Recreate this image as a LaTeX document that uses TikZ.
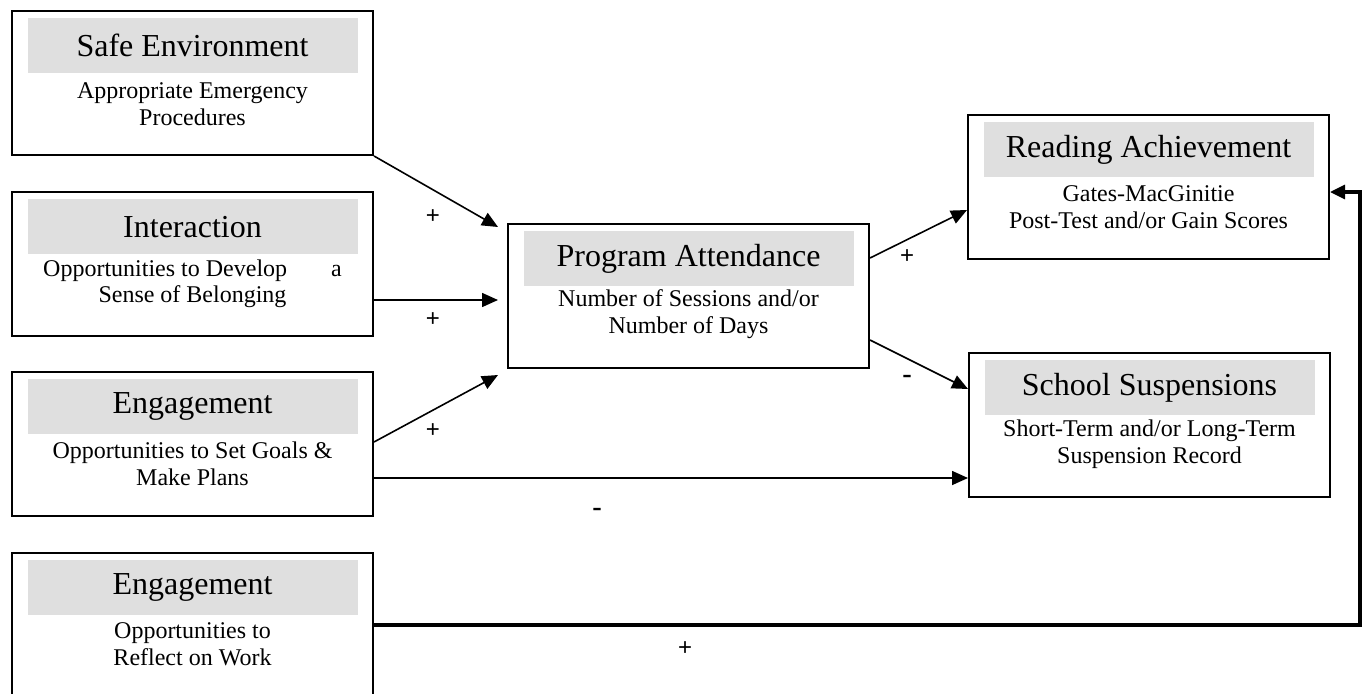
\documentclass[tikz,border=0pt]{standalone}
\usepackage{fontspec}
\setmainfont{Liberation Serif}
\newfontfamily\signfont{Liberation Sans}
\usetikzlibrary{arrows.meta,positioning,calc}
\begin{document}
\begin{tikzpicture}[x=1pt,y=-1pt,
  box/.style={draw,line width=2pt,minimum width=361pt,minimum height=144pt,inner sep=0pt,anchor=north west},
  titlebar/.style={fill=gray!25,minimum width=330pt,minimum height=55pt,inner sep=0pt,font=\fontsize{32}{36}\selectfont},
  body/.style={align=center,font=\fontsize{24}{26.5}\selectfont,inner sep=0pt},
  arr/.style={line width=1.6pt,-{Triangle[length=16pt,width=14pt]}},
  loop/.style={line width=3.2pt,-{Triangle[length=15pt,width=14pt]}},
  sign/.style={font=\signfont\fontsize{24}{26}\selectfont,inner sep=0pt},
  minus/.style={font=\signfont\fontsize{30}{32}\selectfont,inner sep=0pt}
]
\useasboundingbox (0,0) rectangle (1367,693);
\clip (0,0) rectangle (1367,693);

% boxes
\node[box] (safe) at (11,10) {};
\node[box] (inter) at (11,191) {};
\node[box] (eng1) at (11,371) {};
\node[box] (eng2) at (11,552) {};
\node[box] (pa) at (507,223) {};
\node[box] (read) at (967,114) {};
\node[box] (susp) at (968,352) {};

% title bars
\node[titlebar,below=8pt of safe.north] (safeT) {Safe Environment};
\node[titlebar,below=8pt of inter.north] (interT) {Interaction};
\node[titlebar,below=8pt of eng1.north] (eng1T) {Engagement};
\node[titlebar,below=8pt of eng2.north] (eng2T) {Engagement};
\node[titlebar,below=8pt of pa.north] (paT) {Program Attendance};
\node[titlebar,below=8pt of read.north] (readT) {Reading Achievement};
\node[titlebar,below=8pt of susp.north] (suspT) {School Suspensions};

% body texts
\node[body] (safeB) at ($(safe.north)+(0,94)$) {Appropriate Emergency\\Procedures};
\node[body] (interB) at ($(inter.north)+(0,93)$) {Opportunities to Develop\hspace{44pt}a\\Sense of Belonging};
\node[body] (eng1B) at ($(eng1.north)+(0,93)$) {Opportunities to Set Goals \&\\Make Plans};
\node[body] (eng2B) at ($(eng2.north)+(0,92)$) {Opportunities to\\Reflect on Work};
\node[body] (paB) at ($(pa.north)+(0,91)$) {Number of Sessions and/or\\Number of Days};
\node[body] (readB) at ($(read.north)+(0,93)$) {Gates-MacGinitie\\Post-Test and/or Gain Scores};
\node[body] (suspB) at ($(susp.north)+(0,92)$) {Short-Term and/or Long-Term\\Suspension Record};

% connectors
\draw[arr] (safe.south east) -- ($(pa.north west)+(-9,4)$);
\draw[arr] ($(inter.north east)+(0,109)$) -- ($(pa.north west)+(-9,77)$);
\draw[arr] ($(eng1.north east)+(0,71)$) -- ($(pa.south west)+(-9,6)$);
\draw[arr] ($(eng1.north east)+(0,107)$) -- ($(susp.north west)+(0,126)$);
\draw[arr] ($(pa.north east)+(0,35)$) -- ($(read.north west)+(0,96)$);
\draw[arr] ($(pa.north east)+(0,117)$) -- ($(susp.north west)+(0,37)$);
\coordinate (loopc) at (1360,192);
\draw[loop] ($(eng2.north east)+(0,73)$) -| (loopc) -- ($(read.north east)+(0,78)$);

% signs
\node[sign] (s1) at (433,217) {+};
\node[sign] (s2) at (433,320) {+};
\node[sign] (s3) at (433,431) {+};
\node[sign] (s4) at (907,257) {+};
\node[minus] (s5) at (907,380) {-};
\node[minus] (s6) at (597,513) {-};
\node[sign] (s7) at (685,649) {+};
\end{tikzpicture}
\end{document}
